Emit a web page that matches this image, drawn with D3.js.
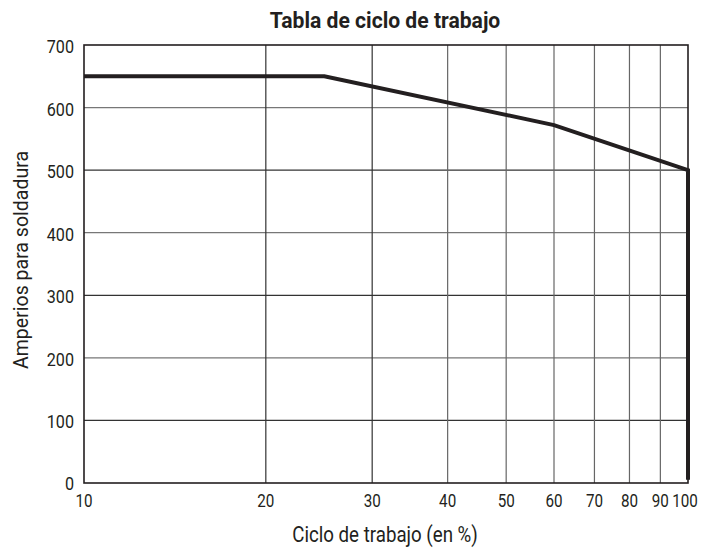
<!DOCTYPE html>
<html><head><meta charset="utf-8">
<script src="https://cdn.jsdelivr.net/npm/d3@7"></script>
<style>body{margin:0;background:#fff}svg{display:block}text{font-family:"Roboto","Liberation Sans",sans-serif;fill:#231f20}</style>
</head><body><svg id="c" width="701" height="548"></svg>
<script>
const xTicks=[10,20,30,40,50,60,70,80,90,100];
const yTicks=[0,100,200,300,400,500,600,700];
const dutyCycle=[10,25,60,100,100];
const amps=[650,650,572,500,5];
const svg=d3.select("#c");
const L=84,R=688,T=45,B=483;
const x=d3.scaleLog().domain([10,100]).range([L,R]);
const y=d3.scaleLinear().domain([0,700]).range([B,T]);
const g=svg.append("g");
g.selectAll(".hg").data(yTicks.slice(1,-1)).enter().append("line")
 .attr("x1",L).attr("x2",R).attr("y1",d=>y(d)).attr("y2",d=>y(d))
 .attr("stroke",(d,i)=>i%2?"#777":"#333").attr("stroke-width",1.2);
g.selectAll(".vg").data(xTicks.slice(1,-1)).enter().append("line")
 .attr("y1",T).attr("y2",B).attr("x1",d=>x(d)).attr("x2",d=>x(d))
 .attr("stroke",(d,i)=>i<2?"#333":"#666").attr("stroke-width",1.2);
g.append("rect").attr("x",L).attr("y",T).attr("width",R-L).attr("height",B-T)
 .attr("fill","none").attr("stroke","#231f20").attr("stroke-width",1.6);
g.append("path").datum(dutyCycle.map((d,i)=>[d,amps[i]]))
 .attr("d",d3.line().x(d=>x(d[0])).y(d=>y(d[1])))
 .attr("fill","none").attr("stroke","#231f20").attr("stroke-width",4).attr("stroke-linejoin","miter");
svg.selectAll(".yl").data(yTicks).enter().append("text")
 .attr("transform",d=>`translate(74,${y(d)+(d===0?7:8)}) scale(0.85,1)`)
 .attr("text-anchor","end").attr("font-size",19).text(d=>d);
svg.selectAll(".xl").data(xTicks).enter().append("text")
 .attr("transform",d=>`translate(${Math.min(x(d),685)},507) scale(0.8,1)`)
 .attr("text-anchor","middle").attr("font-size",19).text(d=>d);
svg.append("text").attr("transform","translate(385,28) scale(0.96,1)").attr("text-anchor","middle")
 .attr("font-size",22).attr("font-weight","bold").text("Tabla de ciclo de trabajo");
svg.append("text").attr("transform","translate(385,542) scale(0.85,1)").attr("text-anchor","middle")
 .attr("font-size",22).text("Ciclo de trabajo (en %)");
svg.append("text").attr("transform","translate(28,260) rotate(-90) scale(0.93,1)").attr("text-anchor","middle")
 .attr("font-size",21).text("Amperios para soldadura");
</script></body></html>
